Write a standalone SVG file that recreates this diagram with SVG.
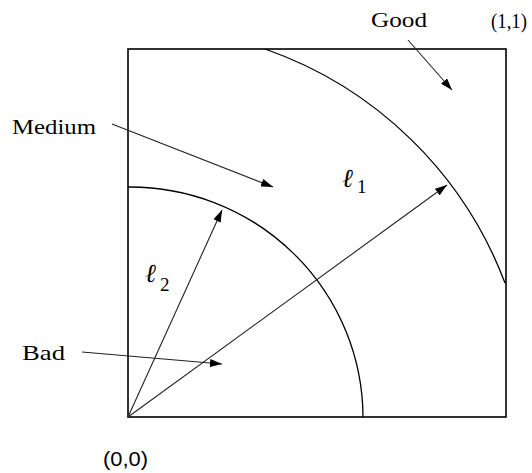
<svg xmlns="http://www.w3.org/2000/svg" width="532" height="473" viewBox="0 0 532 473">
<style>
.lbl{font-family:"Liberation Serif","DejaVu Serif",serif;font-size:22px;fill:#000}
.ell{font-family:"DejaVu Serif","Liberation Serif",serif;font-size:26px;font-style:italic;fill:#000}
.sub{font-family:"Liberation Serif","DejaVu Serif",serif;font-size:19px;fill:#000}
.coord{font-family:"Liberation Sans","DejaVu Sans",sans-serif;font-size:20px;fill:#000}
.frame{fill:none;stroke:#000;stroke-width:1.6}
.arc{fill:none;stroke:#000;stroke-width:1.3}
.arr{fill:none;stroke:#222;stroke-width:1.1;marker-end:url(#ah)}
</style>
<defs>
<marker id="ah" viewBox="0 0 12 8" refX="12" refY="4" markerWidth="12" markerHeight="8" markerUnits="userSpaceOnUse" orient="auto">
<path d="M0,0 L12,4 L0,8 Z" fill="#000"/>
</marker>
</defs>
<rect x="0" y="0" width="532" height="473" fill="#fff"/>
<g id="square"><rect class="frame" x="128" y="49" width="378" height="368"/></g>
<g id="inner-arc"><path class="arc" d="M128,187 A233,231 0 0 1 363,417"/></g>
<g id="outer-arc"><path class="arc" d="M265,49 A396,396 0 0 1 505,283"/></g>
<g id="labels">
<text class="lbl" x="371" y="27" textLength="56" lengthAdjust="spacingAndGlyphs">Good</text>
<text class="lbl" x="491" y="28" font-size="21" textLength="36" lengthAdjust="spacingAndGlyphs">(1,1)</text>
<text class="lbl" x="12" y="134" textLength="84" lengthAdjust="spacingAndGlyphs">Medium</text>
<text class="lbl" x="22" y="360" textLength="43" lengthAdjust="spacingAndGlyphs">Bad</text>
<text class="coord" x="103" y="466" textLength="45" lengthAdjust="spacingAndGlyphs">(0,0)</text>
<text class="ell" x="342" y="187">ℓ</text><text class="sub" x="357" y="193">1</text>
<text class="ell" x="145" y="282">ℓ</text><text class="sub" x="160" y="291">2</text>
</g>
<g id="connectors">
<line class="arr" x1="128" y1="417" x2="447" y2="185"/>
<line class="arr" x1="128" y1="417" x2="222" y2="210"/>
<line class="arr" x1="112" y1="124" x2="273" y2="187"/>
<line class="arr" x1="408" y1="40" x2="452" y2="90"/>
<line class="arr" x1="82" y1="352" x2="222" y2="364"/>
</g>
</svg>
